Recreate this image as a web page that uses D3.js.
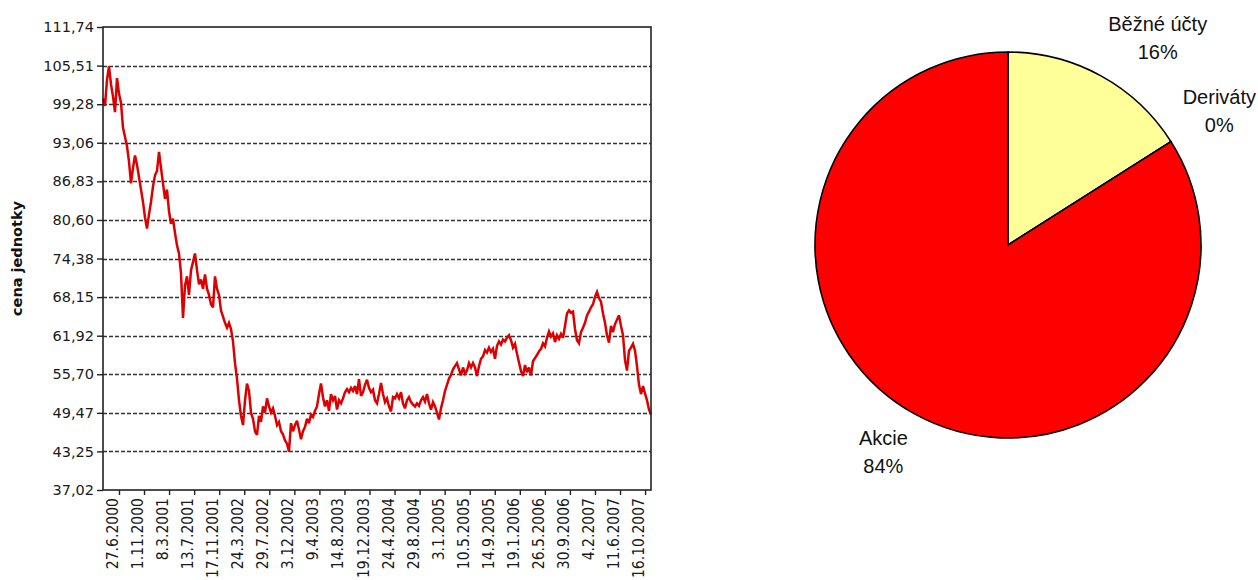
<!DOCTYPE html>
<html>
<head>
<meta charset="utf-8">
<script src="https://cdn.jsdelivr.net/npm/d3@7"></script>
<style>
  body { margin: 0; background: #fff; }
  svg { display: block; }
</style>
</head>
<body>
<svg id="chart" width="1258" height="580"></svg>
<script>
// ---- unit price series (evenly sampled between the first and last date) ----
const startDate = "7.4.2000";
const endDate = "15.11.2007";

const prices = [
  100.2, 99.0, 103.2, 105.4, 102.5, 100.5, 98.0, 103.5, 101.0, 99.5,
  95.5, 94.0, 92.5, 90.0, 86.5, 89.0, 91.0, 89.5, 87.5, 85.5,
  83.5, 81.0, 79.2, 81.5, 83.5, 86.0, 87.8, 88.5, 91.6, 89.0,
  86.5, 84.0, 85.5, 82.0, 80.0, 80.8, 78.5, 76.5, 75.2, 72.0,
  64.8, 70.0, 71.5, 68.5, 72.5, 73.8, 75.2, 72.5, 70.2, 71.0,
  69.5, 71.8, 69.5, 68.5, 67.0, 66.5, 71.5, 69.5, 68.5, 66.0,
  65.0, 64.0, 63.2, 64.0, 63.0, 61.0, 57.5, 55.0, 51.5, 49.0,
  47.5, 51.5, 54.2, 53.0, 49.5, 48.5, 46.5, 45.9, 49.0, 48.0,
  50.5, 49.5, 51.8, 50.5, 49.5, 50.2, 49.0, 47.5, 48.0, 46.5,
  46.0, 45.0, 44.5, 43.2,
  47.8, 46.5, 47.5, 48.2, 46.8, 45.2, 46.5, 47.2, 48.5, 47.8,
  49.2, 48.8, 49.8, 50.5, 52.5, 54.2, 52.0, 50.5, 51.5, 49.8,
  52.5, 51.5, 52.2, 50.0, 51.5, 51.0, 51.8, 52.8, 53.3, 52.8,
  53.5, 53.0, 53.8, 52.5, 54.9, 52.2, 52.8, 54.0, 54.8, 53.5,
  52.8, 53.2, 51.5, 51.0, 52.5, 54.3, 52.5, 51.2, 51.8, 50.5,
  49.7, 52.0, 51.8, 52.5, 51.8, 52.8, 51.0, 50.2, 51.5, 52.0,
  51.2, 50.8, 50.5, 51.0, 50.6, 51.5, 52.0, 51.3, 52.5, 51.0,
  50.0, 51.2, 50.5, 49.5, 48.4, 50.2, 51.5, 53.0, 54.0, 55.0,
  55.6, 56.5, 57.0, 57.5, 56.5, 55.5, 56.8, 55.8, 56.3, 57.5,
  56.8, 57.5, 56.8,
  55.4, 57.0, 58.2, 58.6, 59.6, 59.2, 60.0, 59.3, 59.8, 58.2,
  60.3, 61.0, 60.5, 61.3, 61.0, 61.6, 62.0, 61.2, 60.0, 60.6,
  59.0, 57.6, 56.2, 55.4, 57.2, 56.0, 56.8, 55.5, 57.8, 58.3,
  58.8, 59.4, 59.8, 60.7, 60.2, 61.6, 62.6, 61.8, 62.3, 60.9,
  62.0, 61.4, 62.2, 61.6, 63.5, 65.5, 66.0, 65.6, 65.8, 63.0,
  61.2, 60.7, 62.5, 63.2, 64.0, 65.2, 65.8, 66.5, 67.0, 68.2,
  69.0, 68.0, 67.4, 65.5, 64.0, 62.0, 60.8, 63.5, 62.5, 63.8,
  64.5, 65.2, 63.5, 62.0, 58.0, 56.3, 59.5, 60.0, 60.6, 59.5,
  57.0, 54.0, 52.5, 53.8, 52.6, 51.5, 50.0, 49.2
];

const yTicks = [37.02, 43.25, 49.47, 55.70, 61.92, 68.15, 74.38, 80.60, 86.83, 93.06, 99.28, 105.51, 111.74];

const xTickLabels = [
  "27.6.2000", "1.11.2000", "8.3.2001", "13.7.2001", "17.11.2001", "24.3.2002",
  "29.7.2002", "3.12.2002", "9.4.2003", "14.8.2003", "19.12.2003", "24.4.2004",
  "29.8.2004", "3.1.2005", "10.5.2005", "14.9.2005", "19.1.2006", "26.5.2006",
  "30.9.2006", "4.2.2007", "11.6.2007", "16.10.2007"
];

const yAxisTitle = "cena jednotky";

// ---- portfolio composition ----
const pieLabels = ["Běžné účty", "Deriváty", "Akcie"];
const pieValues = [16, 0, 84];
const pieColors = ["#ffff99", "#cc0000", "#ff0000"];

// ---------------------------------------------------------------
const svg = d3.select("#chart");
const W = 1258;
const plot = { left: 103, right: 651, top: 27, bottom: 490 };

const parse = d3.timeParse("%d.%m.%Y");
const t0 = parse(startDate), t1 = parse(endDate);
const series = prices.map((v, i) => ({
  date: new Date(+t0 + (t1 - t0) * i / (prices.length - 1)),
  value: v
}));
const xTickDates = xTickLabels.map(parse);

const x = d3.scaleTime().domain([t0, t1]).range([plot.left, plot.right]);
const y = d3.scaleLinear().domain([yTicks[0], yTicks[yTicks.length - 1]]).range([plot.bottom, plot.top]);

const csLocale = d3.formatLocale({ decimal: ",", thousands: " ", grouping: [3], currency: ["", " Kč"] });
const fmt = csLocale.format(".2f");

// dashed horizontal grid
svg.append("g")
  .selectAll("line")
  .data(yTicks.slice(1, -1))
  .join("line")
  .attr("x1", plot.left).attr("x2", plot.right)
  .attr("y1", d => Math.round(y(d)) + 0.5).attr("y2", d => Math.round(y(d)) + 0.5)
  .attr("stroke", "#333")
  .attr("stroke-width", 1.4)
  .attr("stroke-dasharray", "4,2");

// price line
svg.append("path")
  .datum(series)
  .attr("fill", "none")
  .attr("stroke", "#dd0000")
  .attr("stroke-width", 2.5)
  .attr("stroke-linejoin", "miter")
  .attr("stroke-miterlimit", 3)
  .attr("d", d3.line().x(d => x(d.date)).y(d => y(d.value)));

// frame
svg.append("rect")
  .attr("x", plot.left).attr("y", plot.top)
  .attr("width", plot.right - plot.left).attr("height", plot.bottom - plot.top)
  .attr("fill", "none").attr("stroke", "#222").attr("stroke-width", 1.6);

// y axis
const yAxis = svg.append("g")
  .attr("transform", `translate(${plot.left},0)`)
  .call(d3.axisLeft(y).tickValues(yTicks).tickSize(6).tickPadding(3).tickFormat(fmt));
yAxis.select(".domain").remove();
yAxis.selectAll(".tick line").attr("stroke", "#222").attr("stroke-width", 1.4);
yAxis.selectAll("text")
  .attr("fill", "#1a1a1a")
  .style("font-family", "'DejaVu Sans', Verdana, sans-serif")
  .style("font-size", "14.5px");

// x axis
const xAxis = svg.append("g")
  .attr("transform", `translate(0,${plot.bottom})`)
  .call(d3.axisBottom(x).tickValues(xTickDates).tickSize(5).tickFormat((d, i) => xTickLabels[i]));
xAxis.select(".domain").remove();
xAxis.selectAll(".tick line").attr("stroke", "#222").attr("stroke-width", 1.4);
xAxis.selectAll("text")
  .attr("x", 0).attr("y", 0).attr("dy", 0)
  .attr("transform", "translate(-1.5,8) rotate(-90) scale(1,1.18)")
  .style("text-anchor", "end")
  .attr("fill", "#1a1a1a")
  .style("font-family", "'DejaVu Sans', Verdana, sans-serif")
  .style("font-size", "14px");

// y axis title
svg.append("text")
  .attr("transform", `translate(22,${(plot.top + plot.bottom) / 2}) rotate(-90)`)
  .attr("text-anchor", "middle")
  .style("font-family", "'DejaVu Sans', Verdana, sans-serif")
  .style("font-size", "14.5px")
  .style("font-weight", "bold")
  .attr("fill", "#111")
  .text(yAxisTitle);

// ---- pie ----
const cx = 1008, cy = 245, R = 193;
const pieData = pieLabels.map((label, i) => ({ label, value: pieValues[i], color: pieColors[i] }));
const arcs = d3.pie().sort(null).value(d => d.value)(pieData);
const arcGen = d3.arc().innerRadius(0).outerRadius(R);

const pieG = svg.append("g").attr("transform", `translate(${cx},${cy})`);
pieG.selectAll("path")
  .data(arcs)
  .join("path")
  .attr("d", arcGen)
  .attr("fill", d => d.data.color)
  .attr("stroke", "#000")
  .attr("stroke-width", 1.6)
  .attr("stroke-linejoin", "round");

// labels: the box corner nearest to the pie sits just outside the rim at the slice's mid angle;
// a box pushed in from the chart edge also drops by twice that amount
const labelGap = 15, lineH = 28;
arcs.forEach(a => {
  const mid = (a.startAngle + a.endAngle) / 2;
  const px = cx + (R + labelGap) * Math.sin(mid);
  const py = cy - (R + labelGap) * Math.cos(mid);
  const g = svg.append("g");
  const t = g.append("text")
    .attr("text-anchor", "middle")
    .style("font-family", "'Liberation Sans', Arial, sans-serif")
    .style("font-size", "20px")
    .attr("fill", "#111");
  t.append("tspan").attr("x", 0).attr("y", 0).text(a.data.label);
  t.append("tspan").attr("x", 0).attr("y", lineH)
    .text(Math.round(a.data.value / d3.sum(pieValues) * 100) + "%");
  const bb = g.node().getBBox();
  let left = Math.sin(mid) >= 0 ? px : px - bb.width;
  let top = Math.cos(mid) >= 0 ? py - bb.height : py;
  const clamped = Math.max(2, Math.min(W - 2 - bb.width, left));
  top += Math.abs(clamped - left) * 2;
  left = clamped;
  g.attr("transform", `translate(${left - bb.x},${top - bb.y})`);
});
</script>
</body>
</html>
